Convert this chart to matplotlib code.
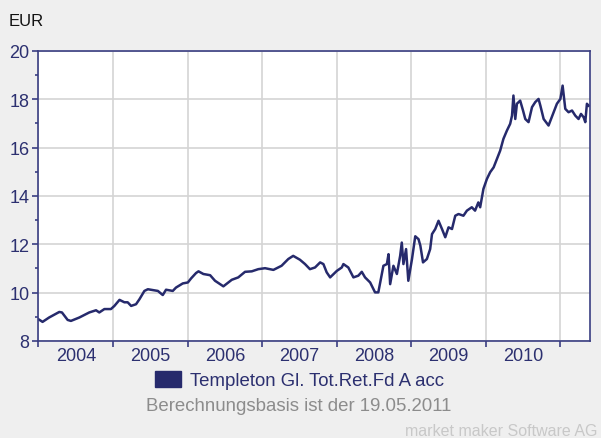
import matplotlib
matplotlib.use('Agg')
import matplotlib.pyplot as plt
import matplotlib.dates as mdates
from matplotlib.patches import Patch
from matplotlib.ticker import MultipleLocator, NullFormatter
import pandas as pd

# values (fund price in EUR)
dates = [
    '2004-01-01', '2004-01-21', '2004-02-22', '2004-04-12', '2004-04-25', '2004-05-23',
    '2004-06-08', '2004-07-19', '2004-09-06', '2004-10-09', '2004-10-25', '2004-11-19',
    '2004-12-21', '2005-01-07', '2005-02-01', '2005-02-25', '2005-03-13', '2005-03-30',
    '2005-04-23', '2005-05-10', '2005-06-03', '2005-06-20', '2005-08-08', '2005-09-01',
    '2005-09-17', '2005-10-20', '2005-11-05', '2005-12-08', '2006-01-02', '2006-01-18',
    '2006-02-11', '2006-02-23', '2006-03-19', '2006-04-21', '2006-05-15', '2006-06-25',
    '2006-08-05', '2006-09-06', '2006-10-09', '2006-11-11', '2006-12-13', '2007-01-15',
    '2007-02-25', '2007-04-06', '2007-05-09', '2007-06-02', '2007-07-05', '2007-07-30',
    '2007-08-23', '2007-09-17', '2007-10-12', '2007-10-28', '2007-11-13', '2007-11-30',
    '2008-01-02', '2008-01-26', '2008-02-03', '2008-02-27', '2008-03-23', '2008-04-16',
    '2008-05-03', '2008-05-19', '2008-06-13', '2008-07-07', '2008-07-23', '2008-08-17',
    '2008-09-03', '2008-09-11', '2008-09-19', '2008-10-05', '2008-10-22', '2008-11-07',
    '2008-11-15', '2008-11-23', '2008-12-06', '2008-12-17', '2009-01-04', '2009-01-20',
    '2009-02-05', '2009-02-14', '2009-02-27', '2009-03-18', '2009-04-03', '2009-04-12',
    '2009-04-28', '2009-05-14', '2009-05-31', '2009-06-16', '2009-07-02', '2009-07-19',
    '2009-08-04', '2009-08-20', '2009-09-13', '2009-09-30', '2009-10-24', '2009-11-09',
    '2009-11-25', '2009-12-04', '2009-12-20', '2010-01-06', '2010-01-22', '2010-02-08',
    '2010-02-24', '2010-03-12', '2010-03-28', '2010-04-14', '2010-04-30', '2010-05-09',
    '2010-05-16', '2010-05-25', '2010-06-02', '2010-06-18', '2010-07-02', '2010-07-13',
    '2010-07-29', '2010-08-15', '2010-08-31', '2010-09-16', '2010-09-25', '2010-10-11',
    '2010-11-04', '2010-11-29', '2010-12-15', '2011-01-01', '2011-01-12', '2011-01-25',
    '2011-02-10', '2011-02-27', '2011-03-15', '2011-03-31', '2011-04-12', '2011-04-25',
    '2011-05-03', '2011-05-11', '2011-05-19',
]
prices = [
    8.90, 8.79, 8.97, 9.20, 9.18, 8.87,
    8.83, 8.97, 9.18, 9.27, 9.18, 9.32,
    9.32, 9.45, 9.70, 9.60, 9.60, 9.45,
    9.52, 9.73, 10.07, 10.14, 10.07, 9.90,
    10.12, 10.07, 10.21, 10.38, 10.42, 10.59,
    10.81, 10.88, 10.77, 10.72, 10.49, 10.26,
    10.53, 10.63, 10.86, 10.88, 10.97, 11.01,
    10.94, 11.11, 11.39, 11.52, 11.36, 11.18,
    10.97, 11.04, 11.25, 11.18, 10.84, 10.63,
    10.90, 11.04, 11.18, 11.04, 10.63, 10.70,
    10.86, 10.63, 10.42, 10.01, 10.01, 11.11,
    11.18, 11.59, 10.35, 11.11, 10.77, 11.52,
    12.07, 11.18, 11.80, 10.49, 11.39, 12.33,
    12.21, 11.94, 11.25, 11.39, 11.80, 12.42,
    12.63, 12.97, 12.63, 12.29, 12.70, 12.63,
    13.18, 13.25, 13.18, 13.39, 13.53, 13.39,
    13.73, 13.53, 14.29, 14.70, 14.98, 15.18,
    15.53, 15.87, 16.36, 16.70, 16.98, 17.32,
    18.15, 17.18, 17.81, 17.94, 17.53, 17.18,
    17.05, 17.67, 17.88, 18.01, 17.73, 17.18,
    16.91, 17.46, 17.81, 18.01, 18.56, 17.60,
    17.46, 17.53, 17.32, 17.18, 17.39, 17.25,
    17.05, 17.81, 17.73,
]
fund_name = 'Templeton Gl. Tot.Ret.Fd A acc'
basis_note = 'Berechnungsbasis ist der 19.05.2011'

NAVY = '#262a6c'
TXT = '#2c3070'
AXC = '#3a3e82'
plt.rcParams['font.family'] = ['Liberation Sans', 'DejaVu Sans']

x = pd.to_datetime(dates)
fig = plt.figure(figsize=(6.01, 4.39), dpi=100, facecolor='#efefef')
ax = fig.add_axes([0.064, 0.221, 0.918, 0.661])
ax.set_facecolor('white')
ax.plot(x, prices, color=NAVY, lw=1.8)

ax.set_ylim(8, 20)
ax.set_xlim(pd.Timestamp('2004-01-01'), pd.Timestamp('2011-05-27'))
ax.yaxis.set_major_locator(MultipleLocator(2))
ax.yaxis.set_minor_locator(MultipleLocator(1))
# year boundaries get the tick marks, labels sit mid-year
ax.xaxis.set_major_locator(mdates.YearLocator())
ax.xaxis.set_major_formatter(NullFormatter())
ax.xaxis.set_minor_locator(mdates.MonthLocator(bymonth=7, bymonthday=2))
ax.xaxis.set_minor_formatter(mdates.DateFormatter('%Y'))

ax.grid(True, which='major', color='#d4d4d4', lw=1.2)
ax.set_axisbelow(True)
for s in ax.spines.values():
    s.set_color(AXC); s.set_linewidth(1.2)
ax.tick_params(axis='y', which='major', direction='out', length=4, width=1.2,
               color=AXC, labelcolor=TXT, labelsize=13, pad=2.5)
ax.tick_params(axis='y', which='minor', direction='out', length=2.5, width=1.2, color=AXC)
ax.tick_params(axis='x', which='major', direction='out', length=4, width=1.2, color=AXC)
ax.tick_params(axis='x', which='minor', length=0, labelcolor=TXT, labelsize=13, pad=4)

fig.text(0.015, 0.951, 'EUR', fontsize=12, color='#111111', va='center', ha='left')
fig.legend(handles=[Patch(facecolor=NAVY, edgecolor=NAVY, label=fund_name)],
           loc='center', bbox_to_anchor=(0.498, 0.132), frameon=False,
           fontsize=13.4, handlelength=1.4, handleheight=0.95, handletextpad=0.45,
           labelcolor=TXT)
fig.text(0.4975, 0.0736, basis_note, fontsize=13.4, color='#8c8c8c', ha='center', va='center')
fig.text(0.995, 0.018, 'market maker Software AG', fontsize=11.5, color='#c8c8c8',
         ha='right', va='center')

fig.savefig('out.png', dpi=100, facecolor=fig.get_facecolor())
